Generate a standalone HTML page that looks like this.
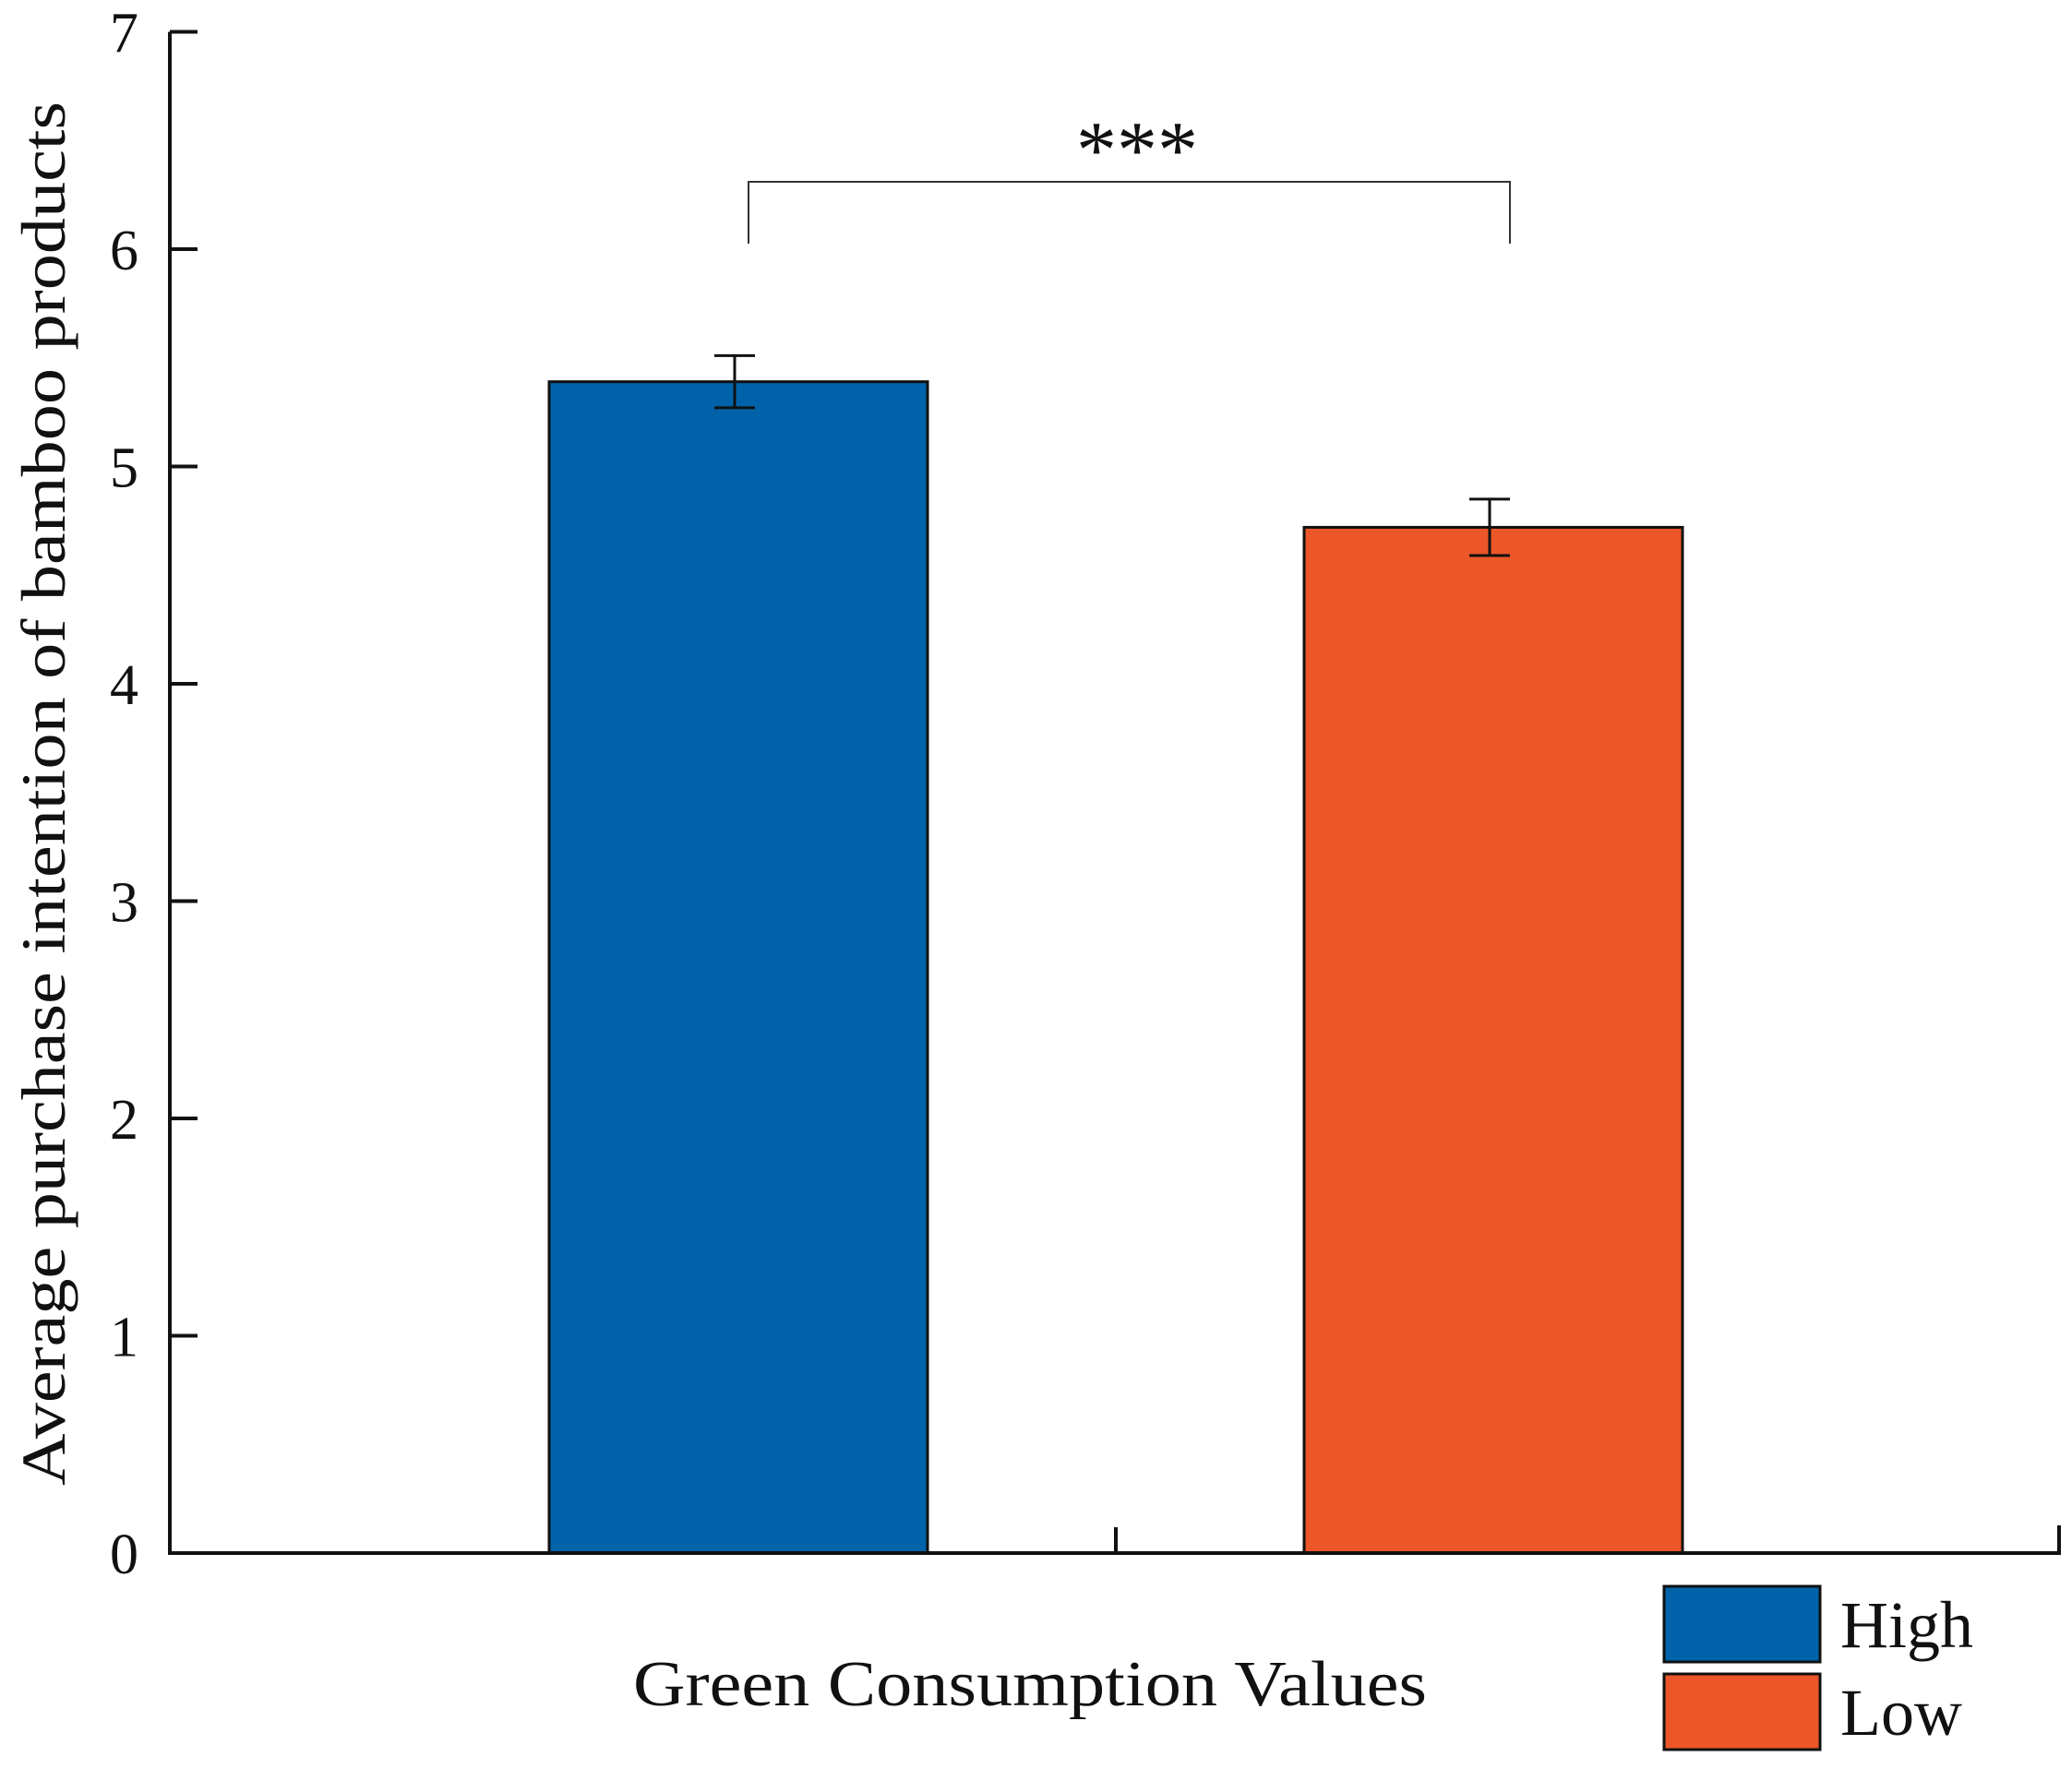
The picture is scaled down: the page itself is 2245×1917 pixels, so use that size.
<!DOCTYPE html>
<html><head><meta charset="utf-8"><style>
html,body{margin:0;padding:0;background:#fff;}
svg{display:block;}
text{font-family:"Liberation Serif",serif;fill:#111;}
</style></head><body>
<svg id="chart" width="2245" height="1917" viewBox="0 0 2245 1917" xmlns="http://www.w3.org/2000/svg"></svg>
<script>
const categories = ["High", "Low"];
const means = [5.39, 4.72];
const errors = [0.12, 0.13];
const yTicks = [0, 1, 2, 3, 4, 5, 6, 7];
const colors = ["#0063AA", "#EC5628"];

const NS = "http://www.w3.org/2000/svg";
const svg = document.getElementById("chart");
const X0 = 184, X1 = 2231, Y0 = 1683, Y7 = 34.5;
const yScale = v => Y0 - (Y0 - Y7) * v / 7;
const barLeft = [595, 1413], barW = 410;
function el(tag, attrs, parent) {
  const e = document.createElementNS(NS, tag);
  for (const k in attrs) e.setAttribute(k, attrs[k]);
  (parent || svg).appendChild(e);
  return e;
}

categories.forEach((c, i) => {
  const x = barLeft[i], y = yScale(means[i]);
  const r = el("rect", {x: x, y: y, width: barW, height: Y0 - y, fill: colors[i], stroke: "#111", "stroke-width": 3});
  
  
  const cx = x + barW / 2 - 4;
  const g = el("g", {stroke: "#111", "stroke-width": 3});
  
  
  const yt = yScale(means[i] + errors[i]), yb = yScale(means[i] - errors[i]);
  el("line", {x1: cx, x2: cx, y1: yt, y2: yb}, g);
  el("line", {x1: cx - 22, x2: cx + 22, y1: yt, y2: yt}, g);
  el("line", {x1: cx - 22, x2: cx + 22, y1: yb, y2: yb}, g);
});

const ax = el("g", {stroke: "#111", "stroke-width": 4, fill: "none"});


el("polyline", {points: `${X0},${Y7} ${X0},${Y0} ${X1},${Y0} ${X1},${Y0 - 30}`}, ax);
el("line", {x1: 1209, x2: 1209, y1: Y0, y2: 1655}, ax);
yTicks.forEach(t => {
  const y = yScale(t);
  el("line", {x1: X0, x2: X0 + 30, y1: y, y2: y}, ax);
  const tx = el("text", {x: 150, y: y + 22, "font-size": 62, "text-anchor": "end"});
  tx.textContent = t;
  
  
});

const br = el("polyline", {points: `811,264 811,197 1636,197 1636,264`, stroke: "#333", "stroke-width": 2, fill: "none"});


const st = el("text", {x: 1232, y: 192, "font-size": 88, "text-anchor": "middle"});
st.textContent = "***";



const yl = el("text", {x: 0, y: 0, "font-size": 68, "text-anchor": "middle", transform: "translate(70,860) rotate(-90)", textLength: 1500, lengthAdjust: "spacingAndGlyphs"});
yl.textContent = "Average purchase intention of bamboo products";


const xl = el("text", {x: 1116, y: 1848, "font-size": 70, "text-anchor": "middle", textLength: 860, lengthAdjust: "spacingAndGlyphs"});
xl.textContent = "Green Consumption Values";



const legY = [1719, 1814];
categories.forEach((c, i) => {
  const g = el("g", {});
  
  
  el("rect", {x: 1803, y: legY[i], width: 169, height: 82, fill: colors[i], stroke: "#111", "stroke-width": 3}, g);
  const t = el("text", {x: 1994, y: legY[i] + 66, "font-size": 72}, g);
  t.textContent = c;
});
</script>
</body></html>
